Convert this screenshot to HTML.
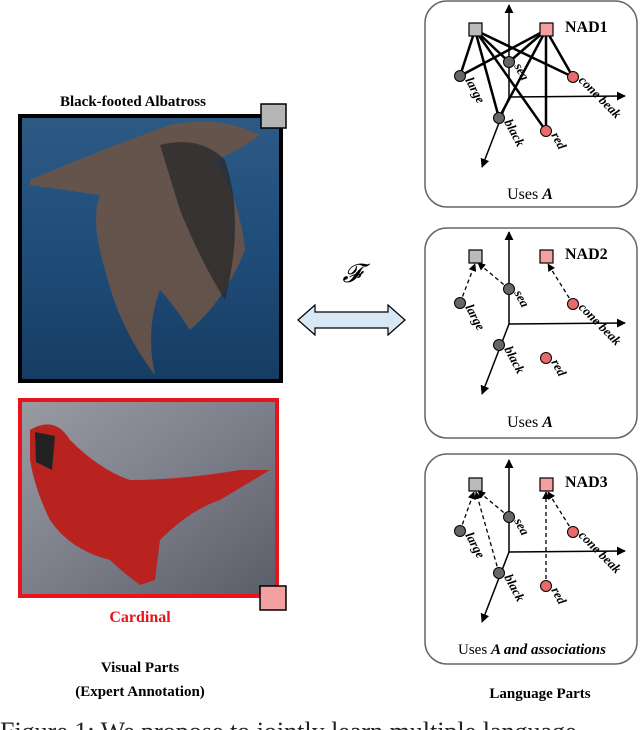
<!DOCTYPE html>
<html><head><meta charset="utf-8"><style>
html,body{margin:0;padding:0;background:#fff;width:640px;height:730px;overflow:hidden}
svg{display:block}
text{font-family:"Liberation Serif",serif}
</style></head><body>
<svg width="640" height="730" viewBox="0 0 640 730" xmlns="http://www.w3.org/2000/svg">
<defs>
<marker id="ar" viewBox="0 0 10 10" refX="9" refY="5" markerWidth="6" markerHeight="6" orient="auto"><path d="M0,0L10,5L0,10z" fill="#000"/></marker>
<linearGradient id="water" x1="0" y1="0" x2="0" y2="1"><stop offset="0" stop-color="#2d5a85"/><stop offset="0.5" stop-color="#1f4d7a"/><stop offset="1" stop-color="#163c63"/></linearGradient>
<linearGradient id="wood" x1="0" y1="0" x2="1" y2="1"><stop offset="0" stop-color="#9a9aa2"/><stop offset="0.5" stop-color="#7c7f8a"/><stop offset="1" stop-color="#5a5d66"/></linearGradient>
<g id="ax">
<line x1="89" y1="97" x2="89" y2="5" stroke="#000" stroke-width="1.5" marker-end="url(#ar)"/>
<line x1="89" y1="97" x2="205" y2="96" stroke="#000" stroke-width="1.5" marker-end="url(#ar)"/>
<line x1="89" y1="97" x2="62" y2="167" stroke="#000" stroke-width="1.5" marker-end="url(#ar)"/>
</g>
<g id="nodes">
<rect x="49" y="23" width="13" height="13" fill="#bbb" stroke="#000" stroke-width="1.2"/>
<rect x="120" y="23" width="13" height="13" fill="#f4a0a0" stroke="#000" stroke-width="1.2"/>
<circle cx="40" cy="76" r="5.5" fill="#666" stroke="#000"/>
<circle cx="89" cy="62" r="5.5" fill="#666" stroke="#000"/>
<circle cx="79" cy="118" r="5.5" fill="#666" stroke="#000"/>
<circle cx="153" cy="77" r="5.5" fill="#e86a6a" stroke="#000"/>
<circle cx="126" cy="131" r="5.5" fill="#e86a6a" stroke="#000"/>
<g font-style="italic" font-weight="bold" font-size="13">
<text transform="translate(45,80) rotate(62)">large</text>
<text transform="translate(94,66) rotate(62)">sea</text>
<text transform="translate(84,122) rotate(62)">black</text>
<text transform="translate(158,81) rotate(45)">cone beak</text>
<text transform="translate(131,135) rotate(62)">red</text>
</g>
</g>
</defs>

<!-- left photos -->
<text x="133" y="106" font-size="15" font-weight="bold" text-anchor="middle">Black-footed Albatross</text>
<rect x="20" y="116" width="261" height="265" fill="url(#water)" stroke="#000" stroke-width="4"/>
<path d="M30,180 Q100,150 170,125 Q220,115 260,135 Q240,150 215,160 Q240,200 245,250 Q225,300 190,330 Q170,300 160,290 Q145,330 155,375 Q120,330 105,270 Q90,220 100,195 Q65,190 30,185z" fill="#6b5446" opacity="0.9"/>
<path d="M160,145 Q200,135 225,160 Q245,220 225,300 Q200,260 180,210z" fill="#2b2a2c" opacity="0.8"/>
<rect x="20" y="400" width="257" height="196" fill="url(#wood)" stroke="#e8141c" stroke-width="4"/>
<path d="M30,430 Q55,415 70,440 Q100,470 130,480 Q180,480 240,470 L270,470 L220,500 Q190,510 160,540 L155,580 L140,585 Q120,570 110,560 Q70,550 50,520 Q35,490 30,460z" fill="#b8231f"/>
<path d="M35,432 L55,436 L52,470 L36,462z" fill="#222"/>
<rect x="261" y="104" width="25" height="24" fill="#b5b5b5" stroke="#000" stroke-width="1.5"/>
<rect x="260" y="586" width="26" height="24" fill="#f2a0a0" stroke="#000" stroke-width="1.5"/>
<text x="140" y="622" font-size="16" font-weight="bold" fill="#e8141c" text-anchor="middle">Cardinal</text>
<text x="140" y="672" font-size="15" font-weight="bold" text-anchor="middle">Visual Parts</text>
<text x="140" y="696" font-size="15" font-weight="bold" text-anchor="middle">(Expert Annotation)</text>
<text x="540" y="698" font-size="15" font-weight="bold" text-anchor="middle">Language Parts</text>

<!-- double arrow -->
<path d="M298,320 L315,305 L315,312 L388,312 L388,305 L405,320 L388,335 L388,328 L315,328 L315,335z" fill="#d6e8f5" stroke="#000" stroke-width="1.2"/>
<text x="352" y="282" font-size="26" font-style="italic" text-anchor="middle">𝓕</text>

<!-- NAD1 -->
<g transform="translate(420,0)">
<rect x="5" y="1" width="212" height="206" rx="22" fill="#fff" stroke="#666" stroke-width="1.5"/>
<use href="#ax"/>
<g stroke="#000" stroke-width="2.5">
<line x1="55" y1="30" x2="40" y2="76"/><line x1="55" y1="30" x2="89" y2="62"/><line x1="55" y1="30" x2="79" y2="118"/><line x1="55" y1="30" x2="126" y2="131"/><line x1="55" y1="30" x2="153" y2="77"/>
<line x1="126" y1="30" x2="40" y2="76"/><line x1="126" y1="30" x2="89" y2="62"/><line x1="126" y1="30" x2="79" y2="118"/><line x1="126" y1="30" x2="126" y2="131"/><line x1="126" y1="30" x2="153" y2="77"/>
</g>
<use href="#nodes"/>
<text x="145" y="32" font-size="16" font-weight="bold">NAD1</text>
<text x="110" y="199" font-size="16" text-anchor="middle">Uses <tspan font-style="italic" font-weight="bold">A</tspan></text>
</g>

<!-- NAD2 -->
<g transform="translate(420,227)">
<rect x="5" y="1" width="212" height="210" rx="22" fill="#fff" stroke="#666" stroke-width="1.5"/>
<use href="#ax"/>
<g stroke="#000" stroke-width="1.3" stroke-dasharray="4,3">
<line x1="40" y1="76" x2="55" y2="37" marker-end="url(#ar)"/><line x1="89" y1="62" x2="58" y2="36" marker-end="url(#ar)"/><line x1="153" y1="77" x2="128" y2="37" marker-end="url(#ar)"/>
</g>
<use href="#nodes"/>
<text x="145" y="32" font-size="16" font-weight="bold">NAD2</text>
<text x="110" y="200" font-size="16" text-anchor="middle">Uses <tspan font-style="italic" font-weight="bold">A</tspan></text>
</g>

<!-- NAD3 -->
<g transform="translate(420,455)">
<rect x="5" y="-1" width="212" height="210" rx="22" fill="#fff" stroke="#666" stroke-width="1.5"/>
<use href="#ax"/>
<g stroke="#000" stroke-width="1.3" stroke-dasharray="4,3">
<line x1="40" y1="76" x2="54" y2="37" marker-end="url(#ar)"/><line x1="89" y1="62" x2="58" y2="36" marker-end="url(#ar)"/><line x1="79" y1="118" x2="56" y2="37" marker-end="url(#ar)"/>
<line x1="153" y1="77" x2="128" y2="37" marker-end="url(#ar)"/><line x1="126" y1="131" x2="126" y2="37" marker-end="url(#ar)"/>
</g>
<use href="#nodes"/>
<text x="145" y="32" font-size="16" font-weight="bold">NAD3</text>
<text x="112" y="199" font-size="15" text-anchor="middle">Uses <tspan font-style="italic" font-weight="bold">A and associations</tspan></text>
</g>

<text x="0" y="740" font-size="26" fill="#222">Figure 1: We propose to jointly learn multiple language</text>
</svg>
</body></html>
